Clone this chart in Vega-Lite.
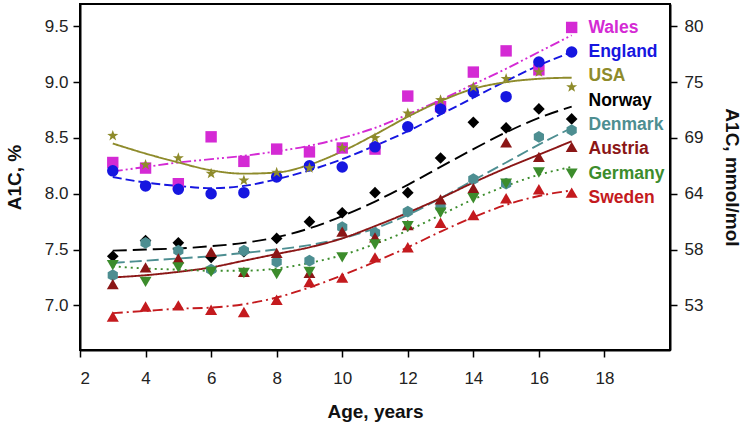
{
  "$schema": "https://vega.github.io/schema/vega-lite/v6.json",
  "width": 590,
  "height": 346,
  "autosize": {"type": "none"},
  "padding": {"left": 80, "top": 4, "right": 75, "bottom": 83},
  "background": "white",
  "config": {
    "font": "Liberation Sans",
    "view": {"stroke": "black", "strokeWidth": 2},
    "axis": {
      "domainColor": "black", "domainWidth": 2, "tickColor": "black", "tickWidth": 1.5, "tickSize": 7,
      "grid": false, "labelFontSize": 17, "labelColor": "#222", "titleFontSize": 19, "titleFontWeight": "bold",
      "titleColor": "#111", "labelFont": "Liberation Sans", "titleFont": "Liberation Sans"
    }
  },
  "data": {
    "values": [
      {"country": "Wales", "age": 3, "a1c": 8.28, "fit": 8.20},
      {"country": "Wales", "age": 4, "a1c": 8.23, "fit": 8.24},
      {"country": "Wales", "age": 5, "a1c": 8.09, "fit": 8.28},
      {"country": "Wales", "age": 6, "a1c": 8.51, "fit": 8.31},
      {"country": "Wales", "age": 7, "a1c": 8.29, "fit": 8.34},
      {"country": "Wales", "age": 8, "a1c": 8.40, "fit": 8.38},
      {"country": "Wales", "age": 9, "a1c": 8.375, "fit": 8.43},
      {"country": "Wales", "age": 10, "a1c": 8.41, "fit": 8.50},
      {"country": "Wales", "age": 11, "a1c": 8.40, "fit": 8.59},
      {"country": "Wales", "age": 12, "a1c": 8.875, "fit": 8.71},
      {"country": "Wales", "age": 13, "a1c": 8.78, "fit": 8.84},
      {"country": "Wales", "age": 14, "a1c": 9.09, "fit": 8.98},
      {"country": "Wales", "age": 15, "a1c": 9.28, "fit": 9.12},
      {"country": "Wales", "age": 16, "a1c": 9.11, "fit": 9.27},
      {"country": "Wales", "age": 17, "a1c": 9.49, "fit": 9.42},
      {"country": "England", "age": 3, "a1c": 8.205, "fit": 8.15},
      {"country": "England", "age": 4, "a1c": 8.07, "fit": 8.10},
      {"country": "England", "age": 5, "a1c": 8.04, "fit": 8.07},
      {"country": "England", "age": 6, "a1c": 8.00, "fit": 8.05},
      {"country": "England", "age": 7, "a1c": 8.01, "fit": 8.07},
      {"country": "England", "age": 8, "a1c": 8.15, "fit": 8.13},
      {"country": "England", "age": 9, "a1c": 8.25, "fit": 8.21},
      {"country": "England", "age": 10, "a1c": 8.24, "fit": 8.31},
      {"country": "England", "age": 11, "a1c": 8.42, "fit": 8.43},
      {"country": "England", "age": 12, "a1c": 8.60, "fit": 8.56},
      {"country": "England", "age": 13, "a1c": 8.76, "fit": 8.71},
      {"country": "England", "age": 14, "a1c": 8.91, "fit": 8.86},
      {"country": "England", "age": 15, "a1c": 8.87, "fit": 9.01},
      {"country": "England", "age": 16, "a1c": 9.18, "fit": 9.15},
      {"country": "England", "age": 17, "a1c": 9.27, "fit": 9.27},
      {"country": "USA", "age": 3, "a1c": 8.52, "fit": 8.45},
      {"country": "USA", "age": 4, "a1c": 8.26, "fit": 8.36},
      {"country": "USA", "age": 5, "a1c": 8.32, "fit": 8.28},
      {"country": "USA", "age": 6, "a1c": 8.18, "fit": 8.21},
      {"country": "USA", "age": 7, "a1c": 8.12, "fit": 8.18},
      {"country": "USA", "age": 8, "a1c": 8.19, "fit": 8.19},
      {"country": "USA", "age": 9, "a1c": 8.23, "fit": 8.26},
      {"country": "USA", "age": 10, "a1c": 8.41, "fit": 8.38},
      {"country": "USA", "age": 11, "a1c": 8.50, "fit": 8.53},
      {"country": "USA", "age": 12, "a1c": 8.72, "fit": 8.69},
      {"country": "USA", "age": 13, "a1c": 8.84, "fit": 8.83},
      {"country": "USA", "age": 14, "a1c": 8.955, "fit": 8.94},
      {"country": "USA", "age": 15, "a1c": 9.03, "fit": 9.00},
      {"country": "USA", "age": 16, "a1c": 9.09, "fit": 9.03},
      {"country": "USA", "age": 17, "a1c": 8.955, "fit": 9.04},
      {"country": "Norway", "age": 3, "a1c": 7.44, "fit": 7.49},
      {"country": "Norway", "age": 4, "a1c": 7.58, "fit": 7.50},
      {"country": "Norway", "age": 5, "a1c": 7.56, "fit": 7.51},
      {"country": "Norway", "age": 6, "a1c": 7.43, "fit": 7.53},
      {"country": "Norway", "age": 7, "a1c": 7.48, "fit": 7.56},
      {"country": "Norway", "age": 8, "a1c": 7.60, "fit": 7.61},
      {"country": "Norway", "age": 9, "a1c": 7.75, "fit": 7.69},
      {"country": "Norway", "age": 10, "a1c": 7.83, "fit": 7.80},
      {"country": "Norway", "age": 11, "a1c": 8.01, "fit": 7.93},
      {"country": "Norway", "age": 12, "a1c": 8.01, "fit": 8.08},
      {"country": "Norway", "age": 13, "a1c": 8.32, "fit": 8.24},
      {"country": "Norway", "age": 14, "a1c": 8.64, "fit": 8.40},
      {"country": "Norway", "age": 15, "a1c": 8.59, "fit": 8.55},
      {"country": "Norway", "age": 16, "a1c": 8.76, "fit": 8.68},
      {"country": "Norway", "age": 17, "a1c": 8.67, "fit": 8.78},
      {"country": "Denmark", "age": 3, "a1c": 7.27, "fit": 7.38},
      {"country": "Denmark", "age": 4, "a1c": 7.56, "fit": 7.40},
      {"country": "Denmark", "age": 5, "a1c": 7.49, "fit": 7.42},
      {"country": "Denmark", "age": 6, "a1c": 7.32, "fit": 7.44},
      {"country": "Denmark", "age": 7, "a1c": 7.49, "fit": 7.47},
      {"country": "Denmark", "age": 8, "a1c": 7.39, "fit": 7.50},
      {"country": "Denmark", "age": 9, "a1c": 7.40, "fit": 7.54},
      {"country": "Denmark", "age": 10, "a1c": 7.70, "fit": 7.60},
      {"country": "Denmark", "age": 11, "a1c": 7.65, "fit": 7.69},
      {"country": "Denmark", "age": 12, "a1c": 7.84, "fit": 7.81},
      {"country": "Denmark", "age": 13, "a1c": 7.88, "fit": 7.96},
      {"country": "Denmark", "age": 14, "a1c": 8.13, "fit": 8.12},
      {"country": "Denmark", "age": 15, "a1c": 8.09, "fit": 8.28},
      {"country": "Denmark", "age": 16, "a1c": 8.51, "fit": 8.44},
      {"country": "Denmark", "age": 17, "a1c": 8.57, "fit": 8.59},
      {"country": "Austria", "age": 3, "a1c": 7.19, "fit": 7.25},
      {"country": "Austria", "age": 4, "a1c": 7.34, "fit": 7.27},
      {"country": "Austria", "age": 5, "a1c": 7.42, "fit": 7.30},
      {"country": "Austria", "age": 6, "a1c": 7.48, "fit": 7.34},
      {"country": "Austria", "age": 7, "a1c": 7.30, "fit": 7.40},
      {"country": "Austria", "age": 8, "a1c": 7.47, "fit": 7.46},
      {"country": "Austria", "age": 9, "a1c": 7.29, "fit": 7.52},
      {"country": "Austria", "age": 10, "a1c": 7.66, "fit": 7.60},
      {"country": "Austria", "age": 11, "a1c": 7.61, "fit": 7.71},
      {"country": "Austria", "age": 12, "a1c": 7.72, "fit": 7.83},
      {"country": "Austria", "age": 13, "a1c": 7.95, "fit": 7.96},
      {"country": "Austria", "age": 14, "a1c": 8.05, "fit": 8.10},
      {"country": "Austria", "age": 15, "a1c": 8.46, "fit": 8.23},
      {"country": "Austria", "age": 16, "a1c": 8.33, "fit": 8.35},
      {"country": "Austria", "age": 17, "a1c": 8.42, "fit": 8.47},
      {"country": "Germany", "age": 3, "a1c": 7.36, "fit": 7.35},
      {"country": "Germany", "age": 4, "a1c": 7.21, "fit": 7.33},
      {"country": "Germany", "age": 5, "a1c": 7.34, "fit": 7.32},
      {"country": "Germany", "age": 6, "a1c": 7.30, "fit": 7.31},
      {"country": "Germany", "age": 7, "a1c": 7.29, "fit": 7.31},
      {"country": "Germany", "age": 8, "a1c": 7.28, "fit": 7.33},
      {"country": "Germany", "age": 9, "a1c": 7.30, "fit": 7.38},
      {"country": "Germany", "age": 10, "a1c": 7.43, "fit": 7.45},
      {"country": "Germany", "age": 11, "a1c": 7.545, "fit": 7.55},
      {"country": "Germany", "age": 12, "a1c": 7.71, "fit": 7.67},
      {"country": "Germany", "age": 13, "a1c": 7.83, "fit": 7.81},
      {"country": "Germany", "age": 14, "a1c": 7.96, "fit": 7.95},
      {"country": "Germany", "age": 15, "a1c": 8.09, "fit": 8.07},
      {"country": "Germany", "age": 16, "a1c": 8.19, "fit": 8.17},
      {"country": "Germany", "age": 17, "a1c": 8.18, "fit": 8.24},
      {"country": "Sweden", "age": 3, "a1c": 6.90, "fit": 6.93},
      {"country": "Sweden", "age": 4, "a1c": 6.99, "fit": 6.95},
      {"country": "Sweden", "age": 5, "a1c": 7.00, "fit": 6.97},
      {"country": "Sweden", "age": 6, "a1c": 6.96, "fit": 6.98},
      {"country": "Sweden", "age": 7, "a1c": 6.94, "fit": 7.01},
      {"country": "Sweden", "age": 8, "a1c": 7.05, "fit": 7.07},
      {"country": "Sweden", "age": 9, "a1c": 7.21, "fit": 7.16},
      {"country": "Sweden", "age": 10, "a1c": 7.25, "fit": 7.27},
      {"country": "Sweden", "age": 11, "a1c": 7.43, "fit": 7.39},
      {"country": "Sweden", "age": 12, "a1c": 7.52, "fit": 7.52},
      {"country": "Sweden", "age": 13, "a1c": 7.74, "fit": 7.66},
      {"country": "Sweden", "age": 14, "a1c": 7.81, "fit": 7.79},
      {"country": "Sweden", "age": 15, "a1c": 7.96, "fit": 7.90},
      {"country": "Sweden", "age": 16, "a1c": 8.04, "fit": 7.98},
      {"country": "Sweden", "age": 17, "a1c": 8.01, "fit": 8.03}
    ]
  },
  "encoding": {
    "x": {
      "field": "age", "type": "quantitative",
      "scale": {"domain": [2, 20], "nice": false, "zero": false},
      "axis": {"values": [2, 4, 6, 8, 10, 12, 14, 16, 18], "title": "Age, years", "labelPadding": 13, "titlePadding": 16}
    },
    "color": {
      "field": "country", "type": "nominal",
      "scale": {
        "domain": ["Wales", "England", "USA", "Norway", "Denmark", "Austria", "Germany", "Sweden"],
        "range": ["#D42AD4", "#1616E0", "#8E8B2B", "#000000", "#4D8E91", "#8B1616", "#3C8C2C", "#C41A1E"]
      },
      "legend": {
        "orient": "none", "legendX": 491, "legendY": 15, "title": null,
        "symbolOpacity": 0, "symbolSize": 1, "symbolStrokeWidth": 0,
        "labelFontSize": 17.5, "labelFontWeight": "bold", "labelOffset": 0, "rowPadding": 5.3, "padding": 0, "labelLimit": 200,
        "encode": {"labels": {"update": {"fill": {"scale": "color", "field": "value"}}}}
      }
    }
  },
  "layer": [
    {
      "mark": {"type": "line", "interpolate": "monotone", "strokeWidth": 1.9},
      "encoding": {
        "y": {
          "field": "fit", "type": "quantitative",
          "scale": {"domain": [6.6, 9.7], "nice": false, "zero": false},
          "axis": {"values": [7, 7.5, 8, 8.5, 9, 9.5], "format": ".1f", "title": "A1C, %", "orient": "left", "labelPadding": 5, "titlePadding": 20}
        },
        "strokeDash": {
          "field": "country", "type": "nominal",
          "scale": {
            "domain": ["Wales", "England", "USA", "Norway", "Denmark", "Austria", "Germany", "Sweden"],
            "range": [[10, 3, 2, 3, 2, 3], [9, 4], [1, 0], [14, 6], [12, 5], [1, 0], [2, 4], [10, 4, 2, 4]]
          },
          "legend": null
        }
      }
    },
    {
      "mark": {"type": "point", "filled": true, "opacity": 1},
      "encoding": {
        "y": {
          "field": "a1c", "type": "quantitative",
          "scale": {"domain": [6.6, 9.7], "nice": false, "zero": false},
          "axis": {"values": [7, 7.5, 8, 8.5, 9, 9.5], "orient": "right", "title": "A1C, mmol/mol", "labelPadding": 7, "titlePadding": 19,
                   "labelExpr": "format(round(10.929 * (datum.value - 2.15)), 'd')"}
        },
        "shape": {
          "field": "country", "type": "nominal",
          "scale": {
            "domain": ["Wales", "England", "USA", "Norway", "Denmark", "Austria", "Germany", "Sweden"],
            "range": ["square", "circle", "M0,-1L0.235,-0.324L0.951,-0.309L0.38,0.124L0.588,0.809L0,0.4L-0.588,0.809L-0.38,0.124L-0.951,-0.309L-0.235,-0.324Z", "diamond", "M0,-1L0.866,-0.5L0.866,0.5L0,1L-0.866,0.5L-0.866,-0.5Z", "triangle-up", "triangle-down", "triangle-up"]
          },
          "legend": null
        },
        "size": {
          "field": "country", "type": "nominal",
          "scale": {
            "domain": ["Wales", "England", "USA", "Norway", "Denmark", "Austria", "Germany", "Sweden"],
            "range": [130, 145, 330, 180, 160, 165, 165, 165]
          },
          "legend": null
        }
      }
    }
  ],
  "resolve": {"scale": {"y": "independent"}}
}
